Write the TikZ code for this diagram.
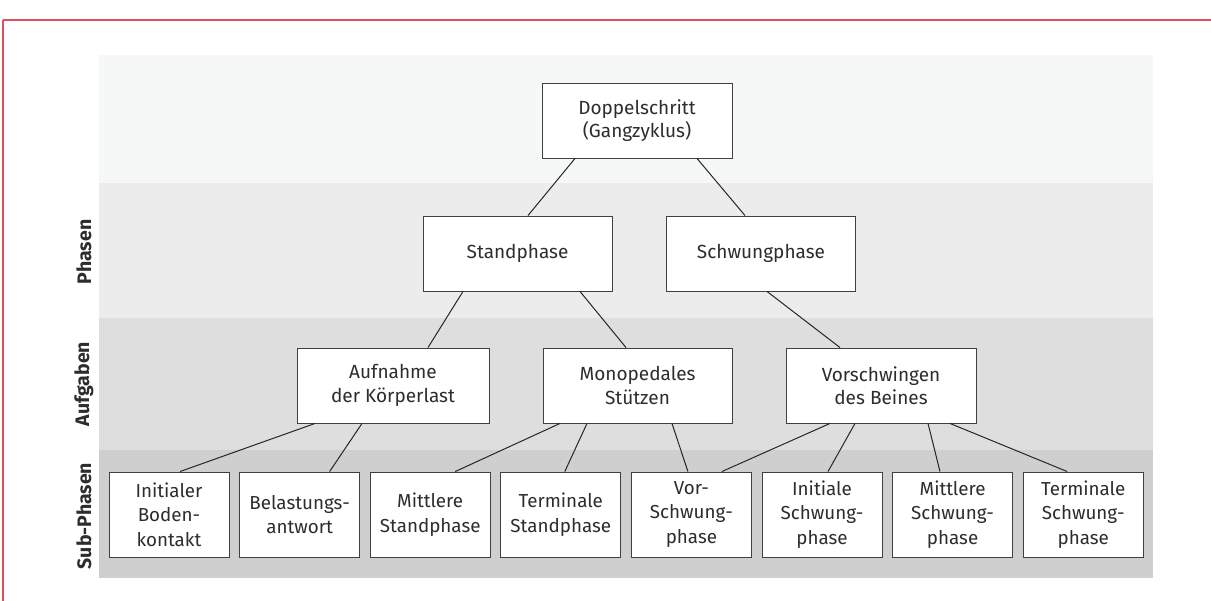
\documentclass[tikz,border=0pt]{standalone}
\usepackage{fontspec}
\setmainfont{Fira Sans}
\definecolor{bandA}{RGB}{246,247,247}
\definecolor{bandB}{RGB}{236,236,236}
\definecolor{bandC}{RGB}{222,222,222}
\definecolor{bandD}{RGB}{207,207,207}
\definecolor{redline}{RGB}{222,80,92}
\definecolor{txt}{RGB}{45,45,45}
\tikzset{
  box/.style={draw=black!75, line width=0.9pt, fill=white, text=txt, align=center,
    inner sep=0pt, font=\fontsize{19}{23.5}\selectfont},
  topbox/.style={box, minimum width=189pt, minimum height=75pt},
  subbox/.style={box, minimum width=120pt, minimum height=85pt, font=\fontsize{18.8}{24.7}\selectfont},
  conn/.style={draw=black!85, line width=1pt},
  bandlabel/.style={rotate=90, text=txt, font=\fontsize{19.5}{22}\selectfont\bfseries}
}
\begin{document}
\begin{tikzpicture}[x=1pt,y=-1pt]
\useasboundingbox (0,0) rectangle (1211,601);
\fill[white] (0,0) rectangle (1211,601);
% red frame lines
\draw[redline, line width=1.2pt] (3,20) -- (1211,20);
\draw[redline, line width=1.2pt] (3,20) -- (3,601);
% bands
\fill[bandA] (99,55) rectangle (1153,183);
\fill[bandB] (99,183) rectangle (1153,318);
\fill[bandC] (99,318) rectangle (1153,450);
\fill[bandD] (99,450) rectangle (1153,578);
% band labels
\node[bandlabel] (lp) at (84,252) {Phasen};
\node[bandlabel] (la) at (84,384) {Aufgaben};
\node[bandlabel] (ls) at (84,516) {Sub-Phasen};
% nodes
\node[topbox, minimum width=190pt] (dop) at (637,120.5) {Doppelschritt\\(Gangzyklus)};
\node[topbox] (stand) at (517.5,253.5) {Standphase};
\node[topbox] (schw) at (761,253.5) {Schwungphase};
\node[topbox, minimum width=192pt] (auf) at (393,385.5) {Aufnahme\\der Körperlast};
\node[topbox] (mono) at (637.5,385.5) {Monopedales\\Stützen};
\node[topbox, minimum width=190pt] (vor) at (881,385.5) {Vorschwingen\\des Beines};
\node[subbox] (s1) at (169,514.5) {Initialer\\Boden-\\kontakt};
\node[subbox] (s2) at (299.6,514.5) {Belastungs-\\antwort};
\node[subbox] (s3) at (430.2,514.5) {Mittlere\\Standphase};
\node[subbox] (s4) at (560.8,514.5) {Terminale\\Standphase};
\node[subbox] (s5) at (691.4,514.5) {Vor-\\Schwung-\\phase};
\node[subbox] (s6) at (822,514.5) {Initiale\\Schwung-\\phase};
\node[subbox] (s7) at (952.6,514.5) {Mittlere\\Schwung-\\phase};
\node[subbox] (s8) at (1083.2,514.5) {Terminale\\Schwung-\\phase};
% connectors
\draw[conn] ([xshift=-62pt]dop.south) -- ([xshift=10.5pt]stand.north);
\draw[conn] ([xshift=60pt]dop.south) -- ([xshift=-16pt]schw.north);
\draw[conn] ([xshift=-54.5pt]stand.south) -- ([xshift=35pt]auf.north);
\draw[conn] ([xshift=62.5pt]stand.south) -- ([xshift=-11.5pt]mono.north);
\draw[conn] ([xshift=6pt]schw.south) -- ([xshift=-41pt]vor.north);
\draw[conn] ([xshift=-78pt]auf.south) -- ([xshift=11pt]s1.north);
\draw[conn] ([xshift=-31pt]auf.south) -- ([xshift=30pt]s2.north);
\draw[conn] ([xshift=-77.5pt]mono.south) -- ([xshift=25pt]s3.north);
\draw[conn] ([xshift=-50.5pt]mono.south) -- ([xshift=4pt]s4.north);
\draw[conn] ([xshift=34.5pt]mono.south) -- ([xshift=-3.5pt]s5.north);
\draw[conn] ([xshift=-51pt]vor.south) -- ([xshift=30.5pt]s5.north);
\draw[conn] ([xshift=-26pt]vor.south) -- ([xshift=6pt]s6.north);
\draw[conn] ([xshift=47pt]vor.south) -- ([xshift=-12.6pt]s7.north);
\draw[conn] ([xshift=69pt]vor.south) -- ([xshift=-16pt]s8.north);
\end{tikzpicture}
\end{document}
